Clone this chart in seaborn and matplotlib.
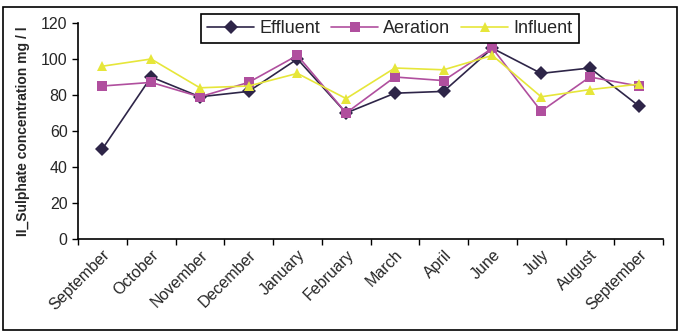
import pandas as pd
import numpy as np
import matplotlib.pyplot as plt
import seaborn as sns
from matplotlib.patches import Rectangle

months = ["September", "October", "November", "December", "January", "February",
          "March", "April", "June", "July", "August", "September"]
effluent = [50, 90, 79, 82, 100, 70, 81, 82, 106, 92, 95, 74]
aeration = [85, 87, 79, 87, 102, 70, 90, 88, 106, 71, 90, 85]
influent = [96, 100, 84, 85, 92, 78, 95, 94, 102, 79, 83, 86]

df = pd.DataFrame({
    "pos": list(range(len(months))) * 3,
    "value": effluent + aeration + influent,
    "series": ["Effluent"] * 12 + ["Aeration"] * 12 + ["Influent"] * 12,
})

sns.set_style("white")
plt.rcParams['font.family'] = ['Liberation Sans', 'DejaVu Sans']

fig = plt.figure(figsize=(6.82, 3.35), dpi=100)
ax = fig.add_axes([78 / 682, 1 - 239 / 335, (663 - 78) / 682, (239 - 23) / 335])

palette = {"Effluent": "#2e2548", "Aeration": "#b04f9e", "Influent": "#e6e63a"}
markers = {"Effluent": "D", "Aeration": "s", "Influent": "^"}
sns.lineplot(data=df, x="pos", y="value", hue="series", style="series",
             palette=palette, markers=markers, dashes=False, markersize=7.5,
             markeredgewidth=0, linewidth=1.2, ax=ax, legend=True)

ax.set_xlim(-0.5, 11.5)
ax.set_ylim(0, 120)
ax.set_yticks(range(0, 121, 20))
ax.set_xticks(range(12))
ax.set_xticklabels(months, rotation=45, ha="right", rotation_mode="anchor", fontsize=11.5)
ax.set_xticks(np.arange(-0.5, 12, 1), minor=True)
ax.tick_params(axis="x", which="major", length=0, pad=6)
ax.tick_params(axis="x", which="minor", length=4, width=1, direction="out", color="black", bottom=True)
ax.tick_params(axis="y", length=4, width=1, direction="out", color="black", left=True, labelsize=11.5)
ax.set_xlabel("")
ax.set_ylabel("II_Sulphate concentration mg / l", fontsize=10, fontweight="bold", labelpad=8)
for s in ["top", "right"]:
    ax.spines[s].set_visible(False)
for s in ["left", "bottom"]:
    ax.spines[s].set_color("black")
    ax.spines[s].set_linewidth(1.2)

handles, labels = ax.get_legend_handles_labels()
ax.legend(handles, labels, ncol=3, loc="center", bbox_to_anchor=(390 / 682, 1 - 28.5 / 335),
          bbox_transform=fig.transFigure, frameon=True, fancybox=False, edgecolor="black",
          fontsize=13, handlelength=2.6, columnspacing=0.6, handletextpad=0.3,
          borderpad=0.35, framealpha=1)
ax.get_legend().get_frame().set_linewidth(1.2)

fig.add_artist(Rectangle((3 / 682, 5 / 335), 674 / 682, 323 / 335, transform=fig.transFigure,
                         fill=False, edgecolor="black", linewidth=1.2))

fig.savefig("out.png", dpi=100)
